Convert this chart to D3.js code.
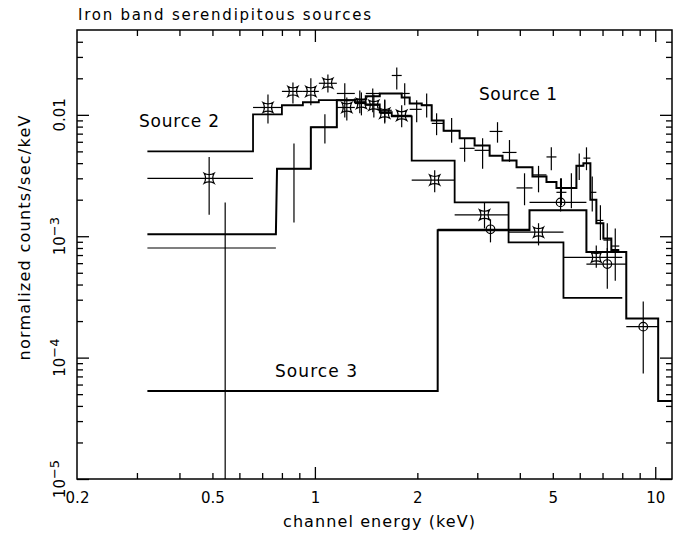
<!DOCTYPE html>
<html lang="en">
  <head>
    <meta charset="UTF-8" />
    <script src="https://d3js.org/d3.v7.min.js"></script>
    <title>Iron band serendipitous sources</title>
    <style>
      body { margin: 0; background: #fff; }
      svg { display: block; font-family: "DejaVu Sans", sans-serif; }
      .err { stroke: #000; stroke-width: 1.2; fill: none; }
      .model { stroke: #000; fill: none; }
    </style>
  </head>
  <body>
    <svg width="673" height="538"></svg>
    <script>
      // Source 1 : plain crosses (bins in keV, values in counts/sec/keV)
      const s1Lo = [0.322, 0.774, 0.973, 1.16, 1.31, 1.411, 1.551, 1.682, 1.799, 1.899, 2.06, 2.204, 2.389, 2.662,
        2.946, 3.261, 3.558, 3.912, 4.358, 4.791, 5.125, 5.483, 5.866, 6.151, 6.448, 6.714, 7.04, 7.43];
      const s1Hi = [0.768, 0.973, 1.16, 1.31, 1.411, 1.551, 1.682, 1.799, 1.899, 2.06, 2.204, 2.389, 2.662, 2.946,
        3.261, 3.558, 3.912, 4.358, 4.791, 5.125, 5.483, 5.866, 6.151, 6.448, 6.714, 7.04, 7.43, 7.84];
      const s1E = [0.545, 0.868, 1.07, 1.224, 1.355, 1.479, 1.604, 1.74, 1.836, 1.991, 2.13, 2.278, 2.522, 2.754,
        3.11, 3.44, 3.73, 4.13, 4.54, 4.95, 5.3, 5.67, 5.98, 6.28, 6.53, 6.9, 7.23, 7.63];
      const s1Val = [0.0008, 0.0036, 0.0079, 0.015, 0.0127, 0.015, 0.0109, 0.0211, 0.015, 0.0111, 0.012, 0.0085, 0.0074, 0.0053,
        0.0051, 0.0073, 0.0049, 0.0025, 0.0032, 0.0045, 0.0023, 0.0025, 0.0038, 0.0044, 0.0023, 0.00135, 0.00093, 0.00083];
      const s1Up = [0.0019, 0.0058, 0.0101, 0.0182, 0.0159, 0.0165, 0.0132, 0.0246, 0.0182, 0.0132, 0.015, 0.0103, 0.0094, 0.0064,
        0.0064, 0.0087, 0.0062, 0.0033, 0.0038, 0.0054, 0.003, 0.0033, 0.0048, 0.0054, 0.0031, 0.0018, 0.00128, 0.00116];
      const s1Down = [0.000001, 0.0013, 0.0058, 0.0095, 0.0103, 0.0105, 0.0087, 0.0162, 0.012, 0.0087, 0.0095, 0.0068, 0.0059, 0.0041,
        0.0036, 0.0059, 0.0041, 0.0018, 0.0023, 0.0035, 0.0018, 0.0017, 0.0029, 0.0035, 0.0016, 0.00093, 0.00061, 0.00043];
      const s1Model = [0.00104, 0.0036, 0.0079, 0.0132, 0.0134, 0.0142, 0.015, 0.015, 0.0139, 0.0124, 0.012, 0.009, 0.0074, 0.0064,
        0.0056, 0.0046, 0.0042, 0.0037, 0.0031, 0.0028, 0.0025, 0.0025, 0.0038, 0.004, 0.002, 0.00128, 0.00096, 0.00077];

      // Source 2 : square stars
      const s2Lo = [0.322, 0.658, 0.8, 0.922, 1.027, 1.16, 1.31, 1.411, 1.551, 1.682, 1.925, 2.574, 3.707, 5.374];
      const s2Hi = [0.658, 0.8, 0.922, 1.027, 1.16, 1.31, 1.411, 1.551, 1.682, 1.925, 2.574, 3.707, 5.374, 8.0];
      const s2E = [0.489, 0.728, 0.862, 0.973, 1.092, 1.241, 1.37, 1.49, 1.604, 1.799, 2.249, 3.15, 4.54, 6.71];
      const s2Val = [0.003, 0.0115, 0.0156, 0.0156, 0.0182, 0.0115, 0.0124, 0.012, 0.0103, 0.0099, 0.0029, 0.0015, 0.00108, 0.00067];
      const s2Up = [0.0045, 0.0147, 0.0185, 0.02, 0.0215, 0.0139, 0.0153, 0.0147, 0.0134, 0.012, 0.0035, 0.0019, 0.00128, 0.00084];
      const s2Down = [0.0015, 0.0085, 0.0124, 0.012, 0.0153, 0.009, 0.0099, 0.0095, 0.0085, 0.0079, 0.0023, 0.00116, 0.00084, 0.00055];
      const s2Model = [0.005, 0.0101, 0.012, 0.0127, 0.0132, 0.0132, 0.0127, 0.0122, 0.0105, 0.0097, 0.0042, 0.0019, 0.00089, 0.00031];

      // Source 3 : circles
      const s3Lo = [2.295, 4.271, 6.277, 8.22];
      const s3Hi = [4.271, 6.277, 8.22, 10.2];
      const s3E = [3.28, 5.27, 7.23, 9.22];
      const s3Val = [0.00114, 0.0019, 0.00059, 0.00018];
      const s3Up = [0.00138, 0.003, 0.0008, 0.00029];
      const s3Down = [0.00089, 0.0016, 0.00037, 0.000074];
      const s3ModelLo = [0.322, 2.295, 4.271, 6.277, 8.22, 10.2];
      const s3ModelHi = [2.295, 4.271, 6.277, 8.22, 10.2, 12.0];
      const s3Model = [0.000053, 0.00112, 0.00164, 0.00074, 0.00021, 0.000044];

      // ticks and labels
      const xMinor = [0.3, 0.4, 0.5, 0.6, 0.7, 0.8, 0.9, 2, 3, 4, 5, 6, 7, 8, 9];
      const xMajor = [1, 10];
      const xLabels = [0.2, 0.5, 1, 2, 5, 10];
      const yMajor = [1e-5, 1e-4, 1e-3, 1e-2];
      const yLabels = [["10", "\u22125"], ["10", "\u22124"], ["10", "\u22123"], ["0.01", ""]];

      const pLeft = 77, pRight = 672, pTop = 30, pBottom = 479;

      const x = d3.scaleLog().domain([0.2, 11.2]).range([pLeft, pRight]);
      const y = d3.scaleLog().domain([1e-5, 0.05]).range([pBottom, pTop]);

      const yMinor = [];
      yMajor.forEach((d) => {
        for (let k = 2; k <= 9; k++) if (d * k < 0.05) yMinor.push(d * k);
      });

      const svg = d3.select("svg");

      svg.append("defs").append("clipPath").attr("id", "plot")
        .append("rect")
        .attr("x", pLeft).attr("y", pTop)
        .attr("width", pRight - pLeft).attr("height", pBottom - pTop);

      // frame + inward ticks
      svg.append("rect")
        .attr("x", pLeft).attr("y", pTop)
        .attr("width", pRight - pLeft).attr("height", pBottom - pTop)
        .attr("fill", "none").attr("stroke", "#000").attr("stroke-width", 1.5);

      function ticks(axis, values, size, transform) {
        svg.append("g")
          .attr("transform", transform)
          .call(axis.tickValues(values).tickSize(-size).tickFormat(""))
          .call((g) => g.select(".domain").remove())
          .selectAll("line").attr("stroke-width", 1.3);
      }
      ticks(d3.axisBottom(x), xMinor, 6, `translate(0,${pBottom})`);
      ticks(d3.axisBottom(x), xMajor, 12, `translate(0,${pBottom})`);
      ticks(d3.axisTop(x), xMinor, 6, `translate(0,${pTop})`);
      ticks(d3.axisTop(x), xMajor, 12, `translate(0,${pTop})`);
      ticks(d3.axisLeft(y), yMinor, 6, `translate(${pLeft},0)`);
      ticks(d3.axisLeft(y), yMajor, 12, `translate(${pLeft},0)`);
      ticks(d3.axisRight(y), yMinor, 6, `translate(${pRight},0)`);
      ticks(d3.axisRight(y), yMajor, 12, `translate(${pRight},0)`);

      // x tick labels
      svg.append("g")
        .attr("transform", `translate(0,${pBottom})`)
        .call(d3.axisBottom(x).tickValues(xLabels).tickSize(0).tickPadding(13).tickFormat((d) => d))
        .call((g) => g.select(".domain").remove())
        .attr("font-family", "DejaVu Sans, sans-serif")
        .attr("font-size", 15);

      // y tick labels, rotated
      const yl = svg.append("g")
        .selectAll("text")
        .data(yMajor)
        .enter()
        .append("text")
        .attr("transform", (d) => `translate(65,${y(d)}) rotate(-90)`)
        .attr("text-anchor", "middle")
        .attr("font-size", 15);
      yl.append("tspan").text((d, i) => yLabels[i][0]);
      yl.append("tspan").attr("dy", "-0.45em").attr("font-size", 13).text((d, i) => yLabels[i][1]);

      // titles
      svg.append("text").attr("x", 78).attr("y", 20)
        .attr("font-size", 15).attr("textLength", 293)
        .text("Iron band serendipitous sources");
      svg.append("text").attr("x", 379).attr("y", 527)
        .attr("text-anchor", "middle").attr("font-size", 16).attr("textLength", 192)
        .text("channel energy (keV)");
      svg.append("text").attr("transform", "translate(30,238) rotate(-90)")
        .attr("text-anchor", "middle").attr("font-size", 16).attr("textLength", 245)
        .text("normalized counts/sec/keV");

      const plot = svg.append("g").attr("clip-path", "url(#plot)");

      function stepPath(lo, hi, vals) {
        const pts = [];
        vals.forEach((v, i) => {
          pts.push([lo[i], v]);
          pts.push([hi[i], v]);
        });
        return d3.line().x((d) => x(d[0])).y((d) => y(d[1]))(pts);
      }

      function errors(lo, hi, e, val, up, down) {
        const g = plot.append("g").attr("class", "err");
        const idx = d3.range(val.length);
        g.selectAll(".h").data(idx).enter().append("line")
          .attr("x1", (i) => x(lo[i])).attr("x2", (i) => x(hi[i]))
          .attr("y1", (i) => y(val[i])).attr("y2", (i) => y(val[i]));
        g.selectAll(".v").data(idx).enter().append("line")
          .attr("x1", (i) => x(e[i])).attr("x2", (i) => x(e[i]))
          .attr("y1", (i) => y(up[i])).attr("y2", (i) => y(down[i]));
        return idx;
      }

      // models
      plot.append("path").attr("class", "model").attr("stroke-width", 2)
        .attr("d", stepPath(s1Lo, s1Hi, s1Model));
      plot.append("path").attr("class", "model").attr("stroke-width", 1.8)
        .attr("d", stepPath(s2Lo, s2Hi, s2Model));
      plot.append("path").attr("class", "model").attr("stroke-width", 2)
        .attr("d", stepPath(s3ModelLo, s3ModelHi, s3Model));

      // data
      errors(s1Lo, s1Hi, s1E, s1Val, s1Up, s1Down);

      const i2 = errors(s2Lo, s2Hi, s2E, s2Val, s2Up, s2Down);
      plot.selectAll(".star").data(i2).enter().append("path")
        .attr("transform", (i) => `translate(${x(s2E[i])},${y(s2Val[i])})`)
        .attr("d", "M-5,-5Q0,-2.2 5,-5Q2.2,0 5,5Q0,2.2 -5,5Q-2.2,0 -5,-5Z")
        .attr("fill", "none").attr("stroke", "#000").attr("stroke-width", 1.2);

      const i3 = errors(s3Lo, s3Hi, s3E, s3Val, s3Up, s3Down);
      plot.selectAll(".circ").data(i3).enter().append("circle")
        .attr("cx", (i) => x(s3E[i])).attr("cy", (i) => y(s3Val[i]))
        .attr("r", 4.3)
        .attr("fill", "none").attr("stroke", "#000").attr("stroke-width", 1.2);

      // source labels
      svg.append("text").attr("x", 479).attr("y", 100).attr("font-size", 17).attr("textLength", 78).text("Source 1");
      svg.append("text").attr("x", 139).attr("y", 127).attr("font-size", 17).attr("textLength", 80).text("Source 2");
      svg.append("text").attr("x", 275).attr("y", 377).attr("font-size", 17).attr("textLength", 82).text("Source 3");
    </script>
  </body>
</html>
